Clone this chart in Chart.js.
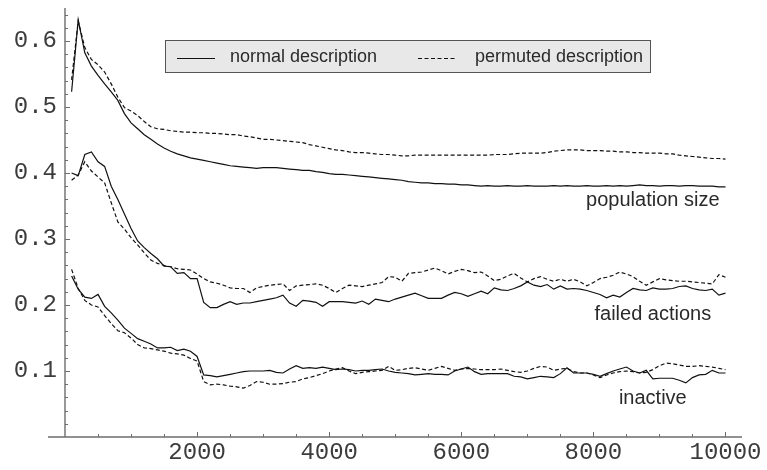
<!DOCTYPE html>
<html>
<head>
<meta charset="utf-8">
<script src="https://cdn.jsdelivr.net/npm/chart.js@4.4.1/dist/chart.umd.min.js"></script>
<style>
  html, body { margin: 0; padding: 0; background: #fff; }
  #wrap { width: 767px; height: 470px; }
</style>
</head>
<body>
<div id="wrap"><canvas id="chart" width="767" height="470"></canvas></div>
<script>
// ====== Data ======
const steps = [
  100, 200, 300, 400, 500, 600, 700, 800, 900, 1000,
  1100, 1200, 1300, 1400, 1500, 1600, 1700, 1800, 1900, 2000,
  2100, 2200, 2300, 2400, 2500, 2600, 2700, 2800, 2900, 3000,
  3100, 3200, 3300, 3400, 3500, 3600, 3700, 3800, 3900, 4000,
  4100, 4200, 4300, 4400, 4500, 4600, 4700, 4800, 4900, 5000,
  5100, 5200, 5300, 5400, 5500, 5600, 5700, 5800, 5900, 6000,
  6100, 6200, 6300, 6400, 6500, 6600, 6700, 6800, 6900, 7000,
  7100, 7200, 7300, 7400, 7500, 7600, 7700, 7800, 7900, 8000,
  8100, 8200, 8300, 8400, 8500, 8600, 8700, 8800, 8900, 9000,
  9100, 9200, 9300, 9400, 9500, 9600, 9700, 9800, 9900, 10000
];

const populationNormal = [
  0.523, 0.632, 0.582, 0.562, 0.548, 0.535, 0.523, 0.510, 0.490, 0.476,
  0.467, 0.458, 0.451, 0.444, 0.438, 0.433, 0.429, 0.426, 0.423, 0.421,
  0.419, 0.417, 0.415, 0.413, 0.411, 0.410, 0.409, 0.408, 0.407, 0.408,
  0.408, 0.408, 0.407, 0.406, 0.405, 0.404, 0.404, 0.402, 0.401, 0.399,
  0.398, 0.398, 0.397, 0.396, 0.395, 0.394, 0.393, 0.392, 0.391, 0.390,
  0.389, 0.387, 0.386, 0.385, 0.385, 0.384, 0.384, 0.383, 0.383, 0.382,
  0.382, 0.381, 0.380, 0.381, 0.380, 0.380, 0.381, 0.380, 0.380, 0.381,
  0.380, 0.380, 0.380, 0.381, 0.380, 0.381, 0.380, 0.380, 0.381, 0.380,
  0.380, 0.381, 0.380, 0.381, 0.380, 0.381, 0.382, 0.381, 0.381, 0.380,
  0.381, 0.381, 0.380, 0.381, 0.381, 0.380, 0.380, 0.380, 0.379, 0.379
];
const populationPermuted = [
  0.541, 0.630, 0.590, 0.572, 0.564, 0.553, 0.535, 0.515, 0.499, 0.494,
  0.487, 0.478, 0.470, 0.467, 0.466, 0.464, 0.463, 0.462, 0.462, 0.461,
  0.461, 0.460, 0.460, 0.459, 0.458, 0.458, 0.456, 0.455, 0.453, 0.451,
  0.451, 0.450, 0.449, 0.448, 0.447, 0.446, 0.443, 0.441, 0.439, 0.437,
  0.435, 0.434, 0.432, 0.431, 0.431, 0.430, 0.429, 0.428, 0.428, 0.427,
  0.426, 0.426, 0.427, 0.427, 0.427, 0.427, 0.427, 0.427, 0.427, 0.427,
  0.427, 0.427, 0.427, 0.427, 0.428, 0.428, 0.428, 0.429, 0.430, 0.430,
  0.430, 0.430, 0.431, 0.433, 0.434, 0.435, 0.435, 0.435, 0.434, 0.434,
  0.434, 0.433, 0.433, 0.432, 0.432, 0.431, 0.431, 0.430, 0.430, 0.430,
  0.429, 0.429, 0.427, 0.426, 0.425, 0.424, 0.423, 0.422, 0.422, 0.421
];
const failedNormal = [
  0.400, 0.396, 0.428, 0.432, 0.417, 0.410, 0.380, 0.360, 0.338, 0.316,
  0.297, 0.287, 0.278, 0.270, 0.259, 0.258, 0.248, 0.249, 0.240, 0.240,
  0.204, 0.196, 0.196, 0.201, 0.205, 0.201, 0.203, 0.203, 0.205, 0.207,
  0.209, 0.211, 0.215, 0.203, 0.198, 0.207, 0.206, 0.204, 0.198, 0.205,
  0.205, 0.205, 0.204, 0.203, 0.206, 0.201, 0.209, 0.207, 0.205, 0.209,
  0.212, 0.215, 0.218, 0.214, 0.210, 0.210, 0.210, 0.215, 0.219, 0.217,
  0.213, 0.217, 0.221, 0.217, 0.226, 0.223, 0.222, 0.225, 0.229, 0.235,
  0.230, 0.228, 0.231, 0.224, 0.229, 0.224, 0.225, 0.224, 0.222, 0.219,
  0.216, 0.211, 0.215, 0.212, 0.219, 0.225, 0.223, 0.222, 0.226, 0.224,
  0.224, 0.225, 0.228, 0.229, 0.225, 0.223, 0.222, 0.224, 0.215, 0.218
];
const failedPermuted = [
  0.389, 0.397, 0.417, 0.403, 0.394, 0.385, 0.355, 0.326, 0.315, 0.302,
  0.291, 0.279, 0.268, 0.263, 0.260, 0.258, 0.255, 0.254, 0.253, 0.247,
  0.240, 0.235, 0.233, 0.230, 0.226, 0.225, 0.225, 0.219, 0.226, 0.228,
  0.230, 0.231, 0.232, 0.222, 0.229, 0.230, 0.231, 0.232, 0.230, 0.225,
  0.219, 0.225, 0.230, 0.229, 0.228, 0.230, 0.232, 0.234, 0.243, 0.242,
  0.236, 0.248, 0.249, 0.250, 0.253, 0.256, 0.252, 0.247, 0.251, 0.254,
  0.252, 0.249, 0.250, 0.244, 0.237, 0.239, 0.244, 0.248, 0.241, 0.235,
  0.240, 0.243, 0.239, 0.236, 0.239, 0.236, 0.239, 0.235, 0.229, 0.234,
  0.240, 0.242, 0.245, 0.250, 0.247, 0.243, 0.236, 0.230, 0.235, 0.240,
  0.238, 0.237, 0.236, 0.236, 0.235, 0.234, 0.233, 0.232, 0.246, 0.242
];
const inactiveNormal = [
  0.244, 0.224, 0.212, 0.210, 0.216, 0.198, 0.188, 0.177, 0.165, 0.157,
  0.149, 0.145, 0.141, 0.135, 0.135, 0.136, 0.131, 0.133, 0.130, 0.122,
  0.094, 0.093, 0.091, 0.093, 0.095, 0.097, 0.099, 0.100, 0.100, 0.100,
  0.101, 0.098, 0.097, 0.103, 0.108, 0.104, 0.105, 0.104, 0.106, 0.104,
  0.102, 0.103, 0.102, 0.100, 0.101, 0.101, 0.102, 0.103, 0.100, 0.098,
  0.097, 0.096, 0.094, 0.095, 0.096, 0.095, 0.095, 0.094, 0.100, 0.103,
  0.106, 0.099, 0.095, 0.096, 0.096, 0.096, 0.096, 0.092, 0.091, 0.088,
  0.090, 0.092, 0.091, 0.090, 0.096, 0.105, 0.097, 0.097, 0.097, 0.095,
  0.092, 0.096, 0.100, 0.103, 0.106, 0.100, 0.097, 0.101, 0.088, 0.089,
  0.089, 0.089, 0.086, 0.082, 0.090, 0.094, 0.095, 0.101, 0.097, 0.097
];
const inactivePermuted = [
  0.254, 0.225, 0.207, 0.200, 0.197, 0.184, 0.172, 0.161, 0.158, 0.150,
  0.140, 0.135, 0.134, 0.132, 0.130, 0.127, 0.126, 0.124, 0.119, 0.115,
  0.084, 0.079, 0.080, 0.079, 0.077, 0.076, 0.074, 0.078, 0.084, 0.083,
  0.080, 0.080, 0.081, 0.083, 0.084, 0.088, 0.090, 0.093, 0.096, 0.100,
  0.103, 0.105, 0.100, 0.096, 0.098, 0.099, 0.100, 0.101, 0.107, 0.101,
  0.102, 0.104, 0.105, 0.103, 0.101, 0.104, 0.107, 0.104, 0.101, 0.103,
  0.104, 0.103, 0.102, 0.102, 0.102, 0.103, 0.101, 0.099, 0.098, 0.100,
  0.104, 0.107, 0.106, 0.101, 0.103, 0.104, 0.099, 0.097, 0.097, 0.094,
  0.090, 0.094, 0.097, 0.099, 0.100, 0.099, 0.097, 0.098, 0.102, 0.108,
  0.112, 0.111, 0.109, 0.107, 0.107, 0.108, 0.107, 0.106, 0.104, 0.102
];

const xTicks = [2000, 4000, 6000, 8000, 10000];
const yTicks = [0.1, 0.2, 0.3, 0.4, 0.5, 0.6];
const legendLabels = ['normal description', 'permuted description'];
const curveLabels = ['population size', 'failed actions', 'inactive'];
const curveLabelX = [8900, 8900, 8900];
const curveLabelY = [0.359, 0.185, 0.059];

// ====== Helpers ======
const INK = '#111';
const AXIS = '#6e6e6e';
const DASH = [4, 2.5];

function toPoints(values) {
  return steps.map((s, i) => ({ x: s, y: values[i] }));
}

function series(label, values, dashed) {
  return {
    label: label,
    data: toPoints(values),
    borderColor: INK,
    borderWidth: 1.2,
    borderDash: dashed ? DASH : [],
    pointRadius: 0,
    tension: 0,
    fill: false
  };
}

// ====== Axis frame with inward ticks ======
const axisFrame = {
  id: 'axisFrame',
  afterDraw(chart) {
    const { ctx, scales: { x, y } } = chart;
    const x0 = x.getPixelForValue(0);
    const y0 = y.getPixelForValue(0);
    ctx.save();
    ctx.strokeStyle = AXIS;
    ctx.lineWidth = 1.4;
    ctx.beginPath();
    ctx.moveTo(x0 - 17, y0);
    ctx.lineTo(x.getPixelForValue(x.max), y0);
    ctx.moveTo(x0, y0);
    ctx.lineTo(x0, y.getPixelForValue(y.max));
    ctx.stroke();

    ctx.lineWidth = 1;
    ctx.beginPath();
    // y ticks: major every 0.1, minor every 0.02
    for (let k = 1; k <= 32; k++) {
      const py = Math.round(y.getPixelForValue(k * 0.02)) + 0.5;
      const len = k % 5 === 0 ? 5 : 3;
      ctx.moveTo(x0, py);
      ctx.lineTo(x0 + len, py);
    }
    // x ticks: major every 2000, minor every 500
    for (let k = 1; k <= 20; k++) {
      const px = Math.round(x.getPixelForValue(k * 500)) + 0.5;
      const len = k % 4 === 0 ? 5 : 3;
      ctx.moveTo(px, y0);
      ctx.lineTo(px, y0 - len);
    }
    ctx.stroke();
    ctx.restore();
  }
};

// ====== Legend box and curve names ======
const annotations = {
  id: 'annotations',
  afterDraw(chart) {
    const { ctx, scales: { x, y } } = chart;
    ctx.save();

    // legend box
    ctx.fillStyle = '#e8e8e8';
    ctx.fillRect(165, 40, 485, 32);
    ctx.strokeStyle = '#555';
    ctx.lineWidth = 1;
    ctx.strokeRect(165.5, 40.5, 485, 32);

    ctx.strokeStyle = INK;
    ctx.lineWidth = 1.2;
    ctx.beginPath();
    ctx.moveTo(177, 58.5);
    ctx.lineTo(215, 58.5);
    ctx.stroke();
    ctx.setLineDash(DASH);
    ctx.beginPath();
    ctx.moveTo(418, 58.5);
    ctx.lineTo(457, 58.5);
    ctx.stroke();
    ctx.setLineDash([]);

    ctx.fillStyle = '#2a2a2a';
    ctx.font = '18px "Liberation Sans", Arial, sans-serif';
    ctx.textBaseline = 'middle';
    ctx.textAlign = 'left';
    ctx.fillText(legendLabels[0], 230, 57);
    ctx.fillText(legendLabels[1], 475, 57);

    // curve names
    ctx.font = '20px "Liberation Sans", Arial, sans-serif';
    ctx.textAlign = 'center';
    curveLabels.forEach((name, i) => {
      ctx.fillText(name, x.getPixelForValue(curveLabelX[i]), y.getPixelForValue(curveLabelY[i]));
    });
    ctx.restore();
  }
};

// ====== Chart ======
const tickFont = { family: '"Courier New", Courier, "Liberation Mono", monospace', size: 24 };

new Chart(document.getElementById('chart'), {
  type: 'line',
  data: {
    datasets: [
      series('population size (normal)', populationNormal, false),
      series('population size (permuted)', populationPermuted, true),
      series('failed actions (normal)', failedNormal, false),
      series('failed actions (permuted)', failedPermuted, true),
      series('inactive (normal)', inactiveNormal, false),
      series('inactive (permuted)', inactivePermuted, true)
    ]
  },
  options: {
    responsive: false,
    animation: false,
    layout: { padding: { top: 8, right: 25, left: 0, bottom: 0 } },
    plugins: {
      legend: { display: false },
      tooltip: { enabled: false }
    },
    scales: {
      x: {
        type: 'linear',
        min: 0,
        max: 10250,
        grid: { display: false, drawTicks: false },
        border: { display: false },
        afterBuildTicks: scale => { scale.ticks = xTicks.map(v => ({ value: v })); },
        afterFit: scale => {
          scale.height = 33;
          scale.paddingLeft = 0;
          scale.paddingRight = 0;
        },
        ticks: {
          font: tickFont,
          color: '#3c3c3c',
          padding: 1,
          maxRotation: 0,
          callback: v => String(v)
        }
      },
      y: {
        type: 'linear',
        min: 0,
        max: 0.65,
        grid: { display: false, drawTicks: false },
        border: { display: false },
        afterBuildTicks: scale => { scale.ticks = yTicks.map(v => ({ value: v })); },
        afterFit: scale => {
          scale.width = 65;
          scale.paddingTop = 0;
          scale.paddingBottom = 0;
        },
        ticks: {
          font: tickFont,
          color: '#3c3c3c',
          padding: 8,
          callback: v => v.toFixed(1)
        }
      }
    }
  },
  plugins: [axisFrame, annotations]
});
</script>
</body>
</html>
